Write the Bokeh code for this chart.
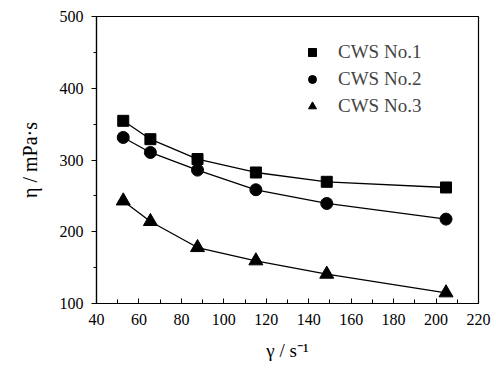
from bokeh.plotting import figure
from bokeh.models import Legend, LegendItem, FixedTicker, Range1d
from bokeh.embed import file_html
from bokeh.resources import INLINE

# data
shear_rate = [52.6, 65.4, 87.6, 115.1, 148.5, 204.7]
cws1 = [354.6, 329.0, 301.3, 282.6, 269.6, 261.7]
cws2 = [331.4, 310.5, 285.9, 258.5, 239.4, 217.6]
cws3 = [243.0, 214.3, 178.0, 159.5, 140.9, 114.9]
series_names = ["CWS No.1", "CWS No.2", "CWS No.3"]
x_ticks = [40, 60, 80, 100, 120, 140, 160, 180, 200, 220]
y_ticks = [100, 200, 300, 400, 500]

FONT = "'Liberation Serif', 'Times New Roman', serif"

p = figure(frame_width=382, frame_height=287, output_backend="svg",
           toolbar_location=None, x_range=Range1d(40, 220), y_range=Range1d(100, 500),
           min_border_left=96, min_border_top=16, min_border_right=16, min_border_bottom=62,
           x_axis_label="γ / s⁻¹", y_axis_label="η / mPa·s")
p.grid.visible = False
p.outline_line_color = "black"
p.outline_line_width = 1.2
p.background_fill_color = "white"
p.border_fill_color = "white"

xa = p.xaxis[0]
xa.ticker = FixedTicker(ticks=x_ticks, minor_ticks=list(range(40, 221, 10)))
xa.major_tick_in = 5
xa.major_tick_out = 0
xa.minor_tick_in = 4
xa.minor_tick_out = 0
xa.major_label_standoff = 10
xa.axis_label_standoff = 12

ya = p.yaxis[0]
ya.ticker = FixedTicker(ticks=y_ticks, minor_ticks=list(range(100, 501, 50)))
ya.major_tick_in = 0
ya.major_tick_out = 5
ya.minor_tick_in = 0
ya.minor_tick_out = 3
ya.major_label_standoff = 8
ya.axis_label_standoff = 16

for ax in (xa, ya):
    ax.axis_line_color = "black"
    ax.axis_line_width = 1.2
    ax.major_tick_line_color = "black"
    ax.minor_tick_line_color = "black"
    ax.major_label_text_font = FONT
    ax.major_label_text_font_size = "16px"
    ax.major_label_text_color = "black"
    ax.axis_label_text_font = FONT
    ax.axis_label_text_font_style = "normal"
    ax.axis_label_text_color = "black"
xa.axis_label_text_font_size = "19px"
ya.axis_label_text_font_size = "20px"

lw = 1.3
p.line(shear_rate, cws1, line_color="black", line_width=lw)
p.line(shear_rate, cws2, line_color="black", line_width=lw)
p.line(shear_rate, cws3, line_color="black", line_width=lw)
r1 = p.scatter(shear_rate, cws1, marker="square", size=11, color="black")
r2 = p.scatter(shear_rate, cws2, marker="circle", size=12, color="black")
r3 = p.scatter(shear_rate, cws3, marker="triangle", size=14, color="black")

legend = Legend(items=[LegendItem(label=series_names[0], renderers=[r1]),
                       LegendItem(label=series_names[1], renderers=[r2]),
                       LegendItem(label=series_names[2], renderers=[r3])],
                location=(206, 186), glyph_width=20, glyph_height=22, label_height=22,
                spacing=5, padding=0, margin=0, label_standoff=16,
                label_text_font=FONT, label_text_font_size="19px",
                border_line_alpha=0, background_fill_alpha=0)
p.add_layout(legend)

open("out.html", "w").write(file_html(p, INLINE))
